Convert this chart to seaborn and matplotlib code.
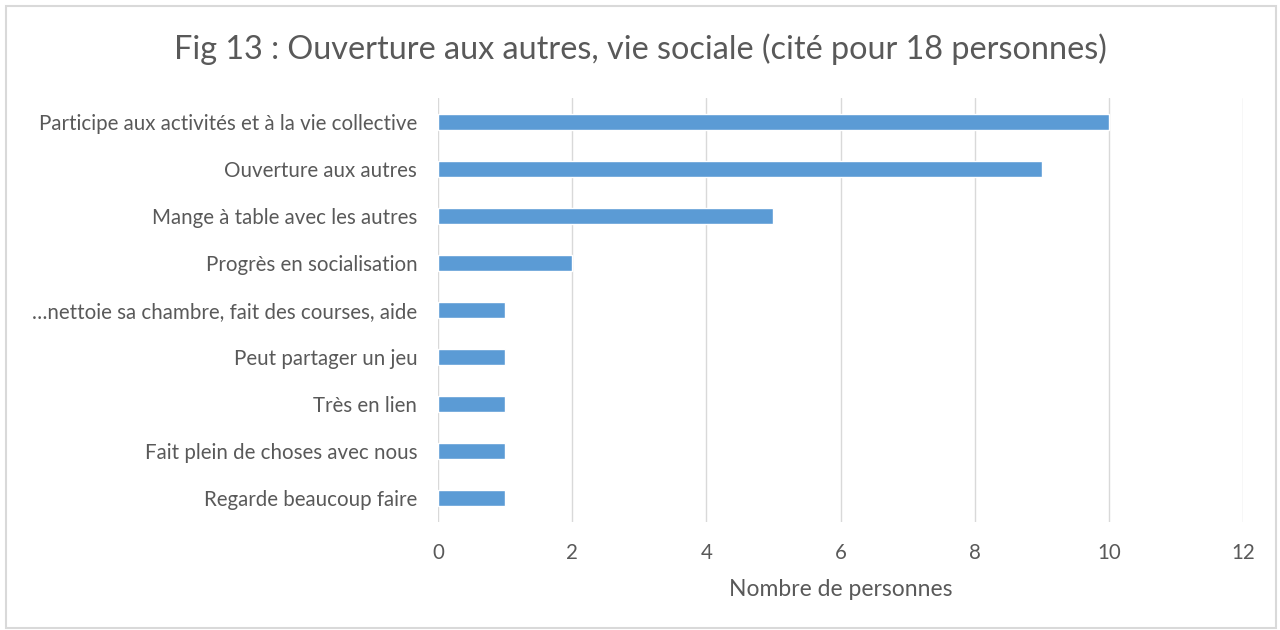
import pandas as pd
import seaborn as sns
import matplotlib.pyplot as plt
from matplotlib.patches import Rectangle

categories = [
    'Participe aux activités et à la vie collective',
    'Ouverture aux autres',
    'Mange à table avec les autres',
    'Progrès en socialisation',
    '…nettoie sa chambre, fait des courses, aide',
    'Peut partager un jeu',
    'Très en lien',
    'Fait plein de choses avec nous',
    'Regarde beaucoup faire',
]
counts = [10, 9, 5, 2, 1, 1, 1, 1, 1]
xticks = [0, 2, 4, 6, 8, 10, 12]

df = pd.DataFrame({'label': categories, 'n': counts})

sns.set_style('white')
plt.rcParams['font.family'] = ['Lato', 'DejaVu Sans']
grey = '#595959'

fig = plt.figure(figsize=(12.8, 6.3), dpi=100)
ax = fig.add_axes([438 / 1280, 1 - 522 / 630, (1243 - 438) / 1280, (522 - 98) / 630])

sns.barplot(data=df, x='n', y='label', color='#5B9BD5', width=0.34,
            saturation=1, ax=ax, zorder=3)

ax.set_xlim(0, 12)
ax.set_ylim(8.5, -0.5)
ax.set_xticks(xticks)
ax.grid(axis='x', color='#D9D9D9', linewidth=1, zorder=0)
for s in ax.spines.values():
    s.set_visible(False)
ax.tick_params(axis='both', length=0, labelsize=14.8, labelcolor=grey)
ax.tick_params(axis='y', pad=15)
ax.tick_params(axis='x', pad=15)
ax.set_ylabel('')
ax.set_xlabel('Nombre de personnes', fontsize=16.5, color=grey, labelpad=12)

fig.text(0.5, 1 - 49 / 630, 'Fig 13 : Ouverture aux autres, vie sociale (cité pour 18 personnes)',
         ha='center', va='center', fontsize=23.3, color=grey)

fig.patches.append(Rectangle((6 / 1280, 2 / 630), 1270 / 1280, 622 / 630,
                             transform=fig.transFigure, fill=False,
                             edgecolor='#D9D9D9', linewidth=1.5))

fig.savefig('out.png', dpi=100)
